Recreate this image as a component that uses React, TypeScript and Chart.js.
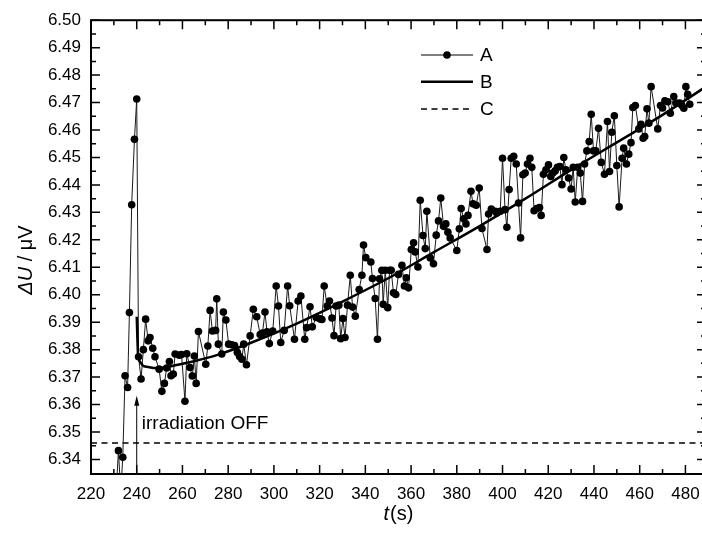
import React, { useEffect, useRef } from "react";
import { Chart, registerables } from "chart.js";

Chart.register(...registerables);

// ---------- data ----------
const A_T = [
  230.8, 232.0, 233.0, 233.9, 234.9, 236.0, 236.8, 237.8, 239.0, 240.0,
  240.8, 241.9, 242.9, 243.9, 245.0, 245.8, 247.0, 248.0, 249.8, 251.0,
  252.1, 253.1, 254.3, 255.0, 256.0, 256.8, 258.6, 259.6, 261.1, 261.9,
  263.3, 264.3, 265.2, 266.0, 267.0, 270.2, 271.1, 272.1, 273.1, 274.5,
  275.0, 275.7, 277.2, 277.9, 279.0, 280.2, 281.5, 282.8, 284.0, 285.0,
  286.0, 286.8, 288.0, 289.6, 291.0, 292.5, 294.0, 295.0, 296.1, 297.0,
  298.0, 299.5, 301.0, 302.0, 303.0, 304.5, 306.0, 306.9, 309.0, 310.6,
  311.8, 313.5, 314.3, 315.8, 316.8, 318.5, 320.2, 321.0, 322.0, 323.3,
  324.3, 325.4, 326.3, 327.2, 328.4, 329.2, 330.2, 331.1, 332.2, 333.4,
  334.4, 335.6, 337.3, 338.5, 339.2, 340.2, 342.4, 343.1, 344.3, 345.3,
  346.2, 347.2, 347.8, 348.7, 349.8, 350.6, 351.3, 352.3, 353.3, 354.5,
  356.0, 357.1, 357.9, 358.9, 360.1, 361.1, 361.8, 363.0, 364.0, 365.2,
  366.2, 366.9, 368.4, 369.8, 371.0, 372.0, 373.0, 374.2, 375.2, 376.1,
  377.1, 380.0, 381.1, 381.9, 383.0, 384.0, 384.9, 386.2, 387.1, 388.5,
  389.8, 391.0, 393.2, 393.9, 395.1, 396.8, 397.5, 399.0, 400.0, 401.1,
  401.9, 402.9, 403.8, 404.9, 406.0, 407.0, 407.9, 408.9, 409.9, 410.9,
  412.0, 412.8, 413.8, 415.0, 416.2, 416.9, 417.9, 419.0, 420.1, 421.1,
  422.0, 423.0, 424.0, 425.1, 426.0, 426.8, 427.7, 428.9, 430.0, 430.9,
  431.8, 432.9, 434.0, 435.0, 435.9, 436.9, 437.9, 438.8, 439.8, 440.8,
  442.0, 443.2, 444.6, 445.9, 446.8, 447.8, 448.9, 450.0, 451.0, 452.3,
  453.0, 454.2, 455.2, 456.2, 457.0, 458.1, 459.6, 460.6, 461.5, 462.2,
  463.2, 464.0, 465.0, 467.9, 469.1, 470.0, 471.0, 472.3, 473.4, 474.9,
  476.0, 477.5, 478.5, 479.3, 480.2, 481.0, 481.9,
];
const A_V = [
  6.325, 6.3432, 6.328, 6.3408, 6.3705, 6.3662, 6.3935, 6.4328, 6.4566, 6.4713,
  6.3774, 6.3693, 6.38, 6.3911, 6.3832, 6.3844, 6.3805, 6.3774, 6.3729, 6.3648,
  6.3677, 6.3733, 6.3757, 6.3705, 6.3711, 6.3784, 6.378, 6.3782, 6.3612, 6.3785,
  6.3735, 6.3704, 6.3777, 6.3677, 6.3866, 6.3747, 6.3813, 6.3943, 6.3868, 6.387,
  6.3985, 6.382, 6.3784, 6.3937, 6.3908, 6.382, 6.3818, 6.3815, 6.379, 6.3775,
  6.3765, 6.382, 6.3745, 6.385, 6.3947, 6.392, 6.3855, 6.386, 6.3937, 6.3865,
  6.3822, 6.3868, 6.4032, 6.3959, 6.3826, 6.387, 6.4032, 6.396, 6.3838, 6.3977,
  6.3995, 6.3838, 6.388, 6.3956, 6.3883, 6.3917, 6.3912, 6.391, 6.4032, 6.3959,
  6.3977, 6.3915, 6.3851, 6.3959, 6.3962, 6.384, 6.3913, 6.3844, 6.3962, 6.4071,
  6.3955, 6.3922, 6.4019, 6.4071, 6.4181, 6.4135, 6.4119, 6.4059, 6.3986, 6.3838,
  6.4058, 6.4089, 6.3965, 6.4089, 6.3953, 6.4089, 6.4089, 6.4007, 6.4001, 6.4074,
  6.4107, 6.4032, 6.4062, 6.4025, 6.4165, 6.4189, 6.4156, 6.4101, 6.4344, 6.4216,
  6.4168, 6.4304, 6.4134, 6.4113, 6.4217, 6.4269, 6.4352, 6.4249, 6.4258, 6.4228,
  6.4207, 6.4161, 6.424, 6.4314, 6.4277, 6.4258, 6.4289, 6.4377, 6.4331, 6.4326,
  6.4389, 6.4241, 6.4165, 6.4294, 6.4312, 6.4304, 6.4298, 6.4304, 6.4497, 6.431,
  6.4246, 6.4383, 6.4497, 6.4504, 6.4476, 6.4334, 6.4207, 6.4437, 6.4443, 6.4476,
  6.4497, 6.4464, 6.4306, 6.4314, 6.4318, 6.4289, 6.4439, 6.4455, 6.4473, 6.4431,
  6.4443, 6.4451, 6.4464, 6.4467, 6.4401, 6.45, 6.4455, 6.4425, 6.4385, 6.4464,
  6.4338, 6.4464, 6.4443, 6.434, 6.4476, 6.4524, 6.4558, 6.4657, 6.4524, 6.4524,
  6.4606, 6.4482, 6.4439, 6.4631, 6.4449, 6.4592, 6.4652, 6.4471, 6.432, 6.4497,
  6.4534, 6.4476, 6.4512, 6.4554, 6.4682, 6.4689, 6.4604, 6.4621, 6.457, 6.4576,
  6.4677, 6.4625, 6.4758, 6.4604, 6.4689, 6.468, 6.4706, 6.4703, 6.4661, 6.4722,
  6.4698, 6.4698, 6.4689, 6.4679, 6.4758, 6.473, 6.4694,
];

const B_T = [240.0, 240.6, 241.5, 243, 245, 248, 252, 258, 265, 275, 290, 310, 330, 350, 370, 390, 410, 430, 450, 470, 489];
const B_V = [6.392, 6.378, 6.3755, 6.374, 6.3737, 6.3733, 6.3735, 6.3745, 6.3758, 6.378, 6.3825, 6.3895, 6.3975, 6.406, 6.4155, 6.425, 6.435, 6.4455, 6.4555, 6.4655, 6.4758];

const C_T = [220, 489];
const C_V = [6.346, 6.346];

const X_TICKS = [220, 240, 260, 280, 300, 320, 340, 360, 380, 400, 420, 440, 460, 480];
const Y_TICKS = [6.34, 6.35, 6.36, 6.37, 6.38, 6.39, 6.4, 6.41, 6.42, 6.43, 6.44, 6.45, 6.46, 6.47, 6.48, 6.49, 6.5];
const X_MIN = 220;
const X_MAX = 489;
const Y_MIN = 6.3347;
const Y_MAX = 6.5;

const LEGEND_LABELS = ["A", "B", "C"];
const X_TITLE_ITALIC = "t";
const X_TITLE_REST = "(s)";
const Y_TITLE_ITALIC = "ΔU";
const Y_TITLE_REST = " / μV";
const NOTE_TEXT = "irradiation OFF";
const ARROW_T = 240;
const ARROW_TIP_V = 6.3632;
const NOTE_T = 242.2;
const NOTE_V = 6.3511;

const FONT = "'Liberation Sans', Arial, Helvetica, sans-serif";

function mids(arr: number[]) {
  const out: number[] = [];
  for (let i = 0; i < arr.length - 1; i++) out.push((arr[i] + arr[i + 1]) / 2);
  return out;
}

const overlay = {
  id: "overlay",
  afterDraw(chart: any) {
    const { ctx, chartArea: a, scales } = chart;
    const xs = scales.x;
    const ys = scales.y;
    ctx.save();
    ctx.strokeStyle = "#000";
    ctx.fillStyle = "#000";

    // ticks (inward on all sides)
    const MAJ = 9;
    const MIN = 5;
    ctx.lineWidth = 1.5;
    ctx.beginPath();
    const xMinor = mids(X_TICKS);
    const lastX = X_TICKS[X_TICKS.length - 1] + 10;
    if (lastX <= X_MAX) xMinor.push(lastX);
    const drawX = (v: number, len: number) => {
      const px = xs.getPixelForValue(v);
      ctx.moveTo(px, a.bottom);
      ctx.lineTo(px, a.bottom - len);
      ctx.moveTo(px, a.top);
      ctx.lineTo(px, a.top + len);
    };
    X_TICKS.forEach((v) => drawX(v, MAJ));
    xMinor.forEach((v) => drawX(v, MIN));
    const yMinor = mids(Y_TICKS);
    const drawY = (v: number, len: number) => {
      const py = ys.getPixelForValue(v);
      ctx.moveTo(a.left, py);
      ctx.lineTo(a.left + len, py);
      ctx.moveTo(a.right, py);
      ctx.lineTo(a.right - len, py);
    };
    Y_TICKS.forEach((v) => drawY(v, MAJ));
    yMinor.forEach((v) => drawY(v, MIN));
    ctx.stroke();

    // frame
    ctx.lineWidth = 2;
    ctx.strokeRect(a.left, a.top, a.right - a.left, a.bottom - a.top);

    // arrow
    const ax = xs.getPixelForValue(ARROW_T);
    const tipY = ys.getPixelForValue(ARROW_TIP_V);
    ctx.lineWidth = 1;
    ctx.beginPath();
    ctx.moveTo(ax, a.bottom);
    ctx.lineTo(ax, tipY + 8);
    ctx.stroke();
    ctx.beginPath();
    ctx.moveTo(ax, tipY);
    ctx.lineTo(ax - 2.5, tipY + 10);
    ctx.lineTo(ax + 2.5, tipY + 10);
    ctx.closePath();
    ctx.fill();

    // note
    ctx.font = `19px ${FONT}`;
    ctx.textAlign = "left";
    ctx.textBaseline = "alphabetic";
    ctx.fillText(NOTE_TEXT, xs.getPixelForValue(NOTE_T), ys.getPixelForValue(NOTE_V));

    // legend
    const lx0 = 421;
    const lx1 = 473;
    const rows = [55, 81.7, 109];
    // A
    ctx.lineWidth = 1;
    ctx.beginPath();
    ctx.moveTo(lx0, rows[0]);
    ctx.lineTo(lx1, rows[0]);
    ctx.stroke();
    ctx.beginPath();
    ctx.arc((lx0 + lx1) / 2, rows[0], 3.8, 0, Math.PI * 2);
    ctx.fill();
    // B
    ctx.lineWidth = 2.5;
    ctx.beginPath();
    ctx.moveTo(lx0, rows[1]);
    ctx.lineTo(lx1, rows[1]);
    ctx.stroke();
    // C
    ctx.lineWidth = 1.6;
    ctx.setLineDash([6, 4.5]);
    ctx.beginPath();
    ctx.moveTo(lx0, rows[2]);
    ctx.lineTo(lx1, rows[2]);
    ctx.stroke();
    ctx.setLineDash([]);
    ctx.font = `19px ${FONT}`;
    ctx.textBaseline = "middle";
    LEGEND_LABELS.forEach((t, i) => ctx.fillText(t, 480, rows[i] + 1));

    // x title
    ctx.textBaseline = "alphabetic";
    ctx.font = `italic 20px ${FONT}`;
    const xw1 = ctx.measureText(X_TITLE_ITALIC).width;
    ctx.font = `20px ${FONT}`;
    const xw2 = ctx.measureText(X_TITLE_REST).width;
    const xt0 = 398 - (xw1 + xw2) / 2;
    ctx.font = `italic 20px ${FONT}`;
    ctx.fillText(X_TITLE_ITALIC, xt0, 520);
    ctx.font = `20px ${FONT}`;
    ctx.fillText(X_TITLE_REST, xt0 + xw1 + 1, 520);

    // y title
    ctx.save();
    ctx.translate(32, 260);
    ctx.rotate(-Math.PI / 2);
    ctx.font = `italic 20px ${FONT}`;
    const yw1 = ctx.measureText(Y_TITLE_ITALIC).width;
    ctx.font = `20px ${FONT}`;
    const yw2 = ctx.measureText(Y_TITLE_REST).width;
    const yt0 = -(yw1 + yw2) / 2;
    ctx.font = `italic 20px ${FONT}`;
    ctx.fillText(Y_TITLE_ITALIC, yt0, 0);
    ctx.font = `20px ${FONT}`;
    ctx.fillText(Y_TITLE_REST, yt0 + yw1, 0);
    ctx.restore();

    ctx.restore();
  },
};

export default function App() {
  const ref = useRef<HTMLCanvasElement | null>(null);
  useEffect(() => {
    if (!ref.current) return;
    const chart = new Chart(ref.current, {
      type: "line",
      data: {
        datasets: [
          {
            label: LEGEND_LABELS[0],
            data: A_T.map((t, i) => ({ x: t, y: A_V[i] })),
            borderColor: "#1a1a1a",
            borderWidth: 1,
            pointRadius: 3.8,
            pointBackgroundColor: "#000",
            pointBorderWidth: 0,
            tension: 0,
            order: 1,
          },
          {
            label: LEGEND_LABELS[1],
            data: B_T.map((t, i) => ({ x: t, y: B_V[i] })),
            borderColor: "#000",
            borderWidth: 2.5,
            pointRadius: 0,
            cubicInterpolationMode: "monotone",
            order: 0,
          },
          {
            label: LEGEND_LABELS[2],
            data: C_T.map((t, i) => ({ x: t, y: C_V[i] })),
            borderColor: "#000",
            borderWidth: 1.6,
            borderDash: [6, 4.5],
            pointRadius: 0,
            order: 2,
          },
        ],
      } as any,
      options: {
        responsive: false,
        animation: false,
        events: [],
        layout: { padding: { top: 18, right: 4, left: 0, bottom: 0 } },
        plugins: { legend: { display: false }, tooltip: { enabled: false } },
        scales: {
          x: {
            type: "linear",
            min: X_MIN,
            max: X_MAX,
            afterFit(s: any) {
              s.height = 59;
            },
            afterBuildTicks(s: any) {
              s.ticks = X_TICKS.map((v) => ({ value: v }));
            },
            ticks: {
              font: { family: FONT, size: 17 },
              color: "#000",
              padding: 10,
              maxRotation: 0,
              autoSkip: false,
              callback: (v: any) => String(v),
            },
            grid: { display: false, drawTicks: false },
            border: { display: false },
          },
          y: {
            type: "linear",
            min: Y_MIN,
            max: Y_MAX,
            afterFit(s: any) {
              s.width = 91;
            },
            afterBuildTicks(s: any) {
              s.ticks = Y_TICKS.map((v) => ({ value: v }));
            },
            ticks: {
              font: { family: FONT, size: 17 },
              color: "#000",
              padding: 10,
              autoSkip: false,
              callback: (v: any) => Number(v).toFixed(2),
            },
            grid: { display: false, drawTicks: false },
            border: { display: false },
          },
        },
      } as any,
      plugins: [overlay],
    });
    return () => chart.destroy();
  }, []);

  return (
    <div
      style={{
        position: "absolute",
        left: 0,
        top: 0,
        width: 702,
        height: 533,
        overflow: "hidden",
        background: "#fff",
      }}
    >
      <canvas ref={ref} width={710} height={533} style={{ width: 710, height: 533, display: "block" }} />
    </div>
  );
}
